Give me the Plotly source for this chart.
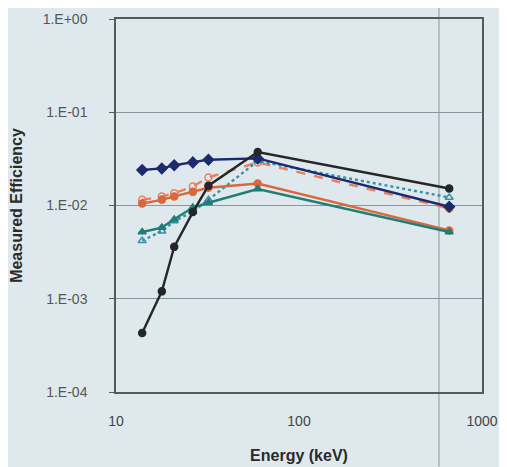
import plotly.graph_objects as go

energy = [13.9, 17.8, 20.8, 26.3, 32.0, 59.5, 662.0]

navy_diamond = [0.024, 0.025, 0.027, 0.029, 0.031, 0.032, 0.0097]
black_circle = [0.00043, 0.0012, 0.0036, 0.0085, 0.0163, 0.0375, 0.0152]
red_open_circle = [0.0115, 0.0125, 0.0135, 0.016, 0.020, 0.029, 0.0093]
orange_circle = [0.0105, 0.0115, 0.0125, 0.014, 0.0155, 0.0172, 0.0054]
teal_triangle = [0.0052, 0.0058, 0.0071, 0.0095, 0.0107, 0.0150, 0.0052]
teal_open_triangle = [0.0042, 0.0053, 0.0068, 0.0086, 0.0115, 0.030, 0.0122]

y_tickvals = [1e-4, 1e-3, 1e-2, 1e-1, 1]
y_ticktext = ["1.E-04", "1.E-03", "1.E-02", "1.E-01", "1.E+00"]
x_tickvals = [10, 100, 1000]
x_ticktext = ["10", "100", "1000"]

fig = go.Figure()

def add(y, color, symbol, dash="solid", fill=True, size=7):
    fig.add_trace(go.Scatter(
        x=energy, y=y, mode="lines+markers",
        line=dict(color=color, width=2.4, dash=dash),
        marker=dict(symbol=symbol if fill else symbol + "-open", size=size,
                    color=color, line=dict(color=color, width=1.5)),
        showlegend=False, cliponaxis=False))

add(red_open_circle, "#e8805e", "circle", dash="dash", fill=False)
add(teal_open_triangle, "#3a8fa8", "triangle-up", dash="dot", fill=False)
add(orange_circle, "#d9693a", "circle")
add(teal_triangle, "#1f7f78", "triangle-up")
add(navy_diamond, "#1c2b6e", "diamond", size=8)
add(black_circle, "#262628", "circle")

bg = "#dfe9ed"
fig.update_layout(
    width=499, height=459,
    margin=dict(l=108, r=25, t=11, b=75, autoexpand=False),
    paper_bgcolor=bg, plot_bgcolor=bg,
    font=dict(family="Liberation Sans, Arial", color="#333333"),
    xaxis=dict(type="log", range=[1, 3], tickvals=x_tickvals, ticktext=x_ticktext,
               showgrid=False, showline=True, linecolor="#555a5e", linewidth=1.5,
               mirror=True, ticks="", tickfont=dict(size=14, color="#444"),
               ticklabelstandoff=15, automargin=False,
               title=dict(text="<b>Energy (keV)</b>", font=dict(size=16, color="#2a2a2a"),
                          standoff=22)),
    yaxis=dict(type="log", range=[-4, 0], tickvals=y_tickvals, ticktext=y_ticktext,
               showgrid=True, gridcolor="#8a969c", gridwidth=1,
               showline=True, linecolor="#555a5e", linewidth=1.5, mirror=True,
               ticks="outside", ticklen=5, tickcolor="#555a5e",
               tickfont=dict(size=14, color="#555"), ticklabelstandoff=19,
               automargin=False,
               title=dict(text="<b>Measured Efficiency</b>", font=dict(size=16, color="#2a2a2a"),
                          standoff=26)),
)

fig.add_shape(type="line", xref="paper", yref="paper", x0=0.8825, x1=0.8825, y0=-0.2, y1=1.05,
              line=dict(color="#8a969c", width=1), layer="below")

fig.write_html("out.html")
